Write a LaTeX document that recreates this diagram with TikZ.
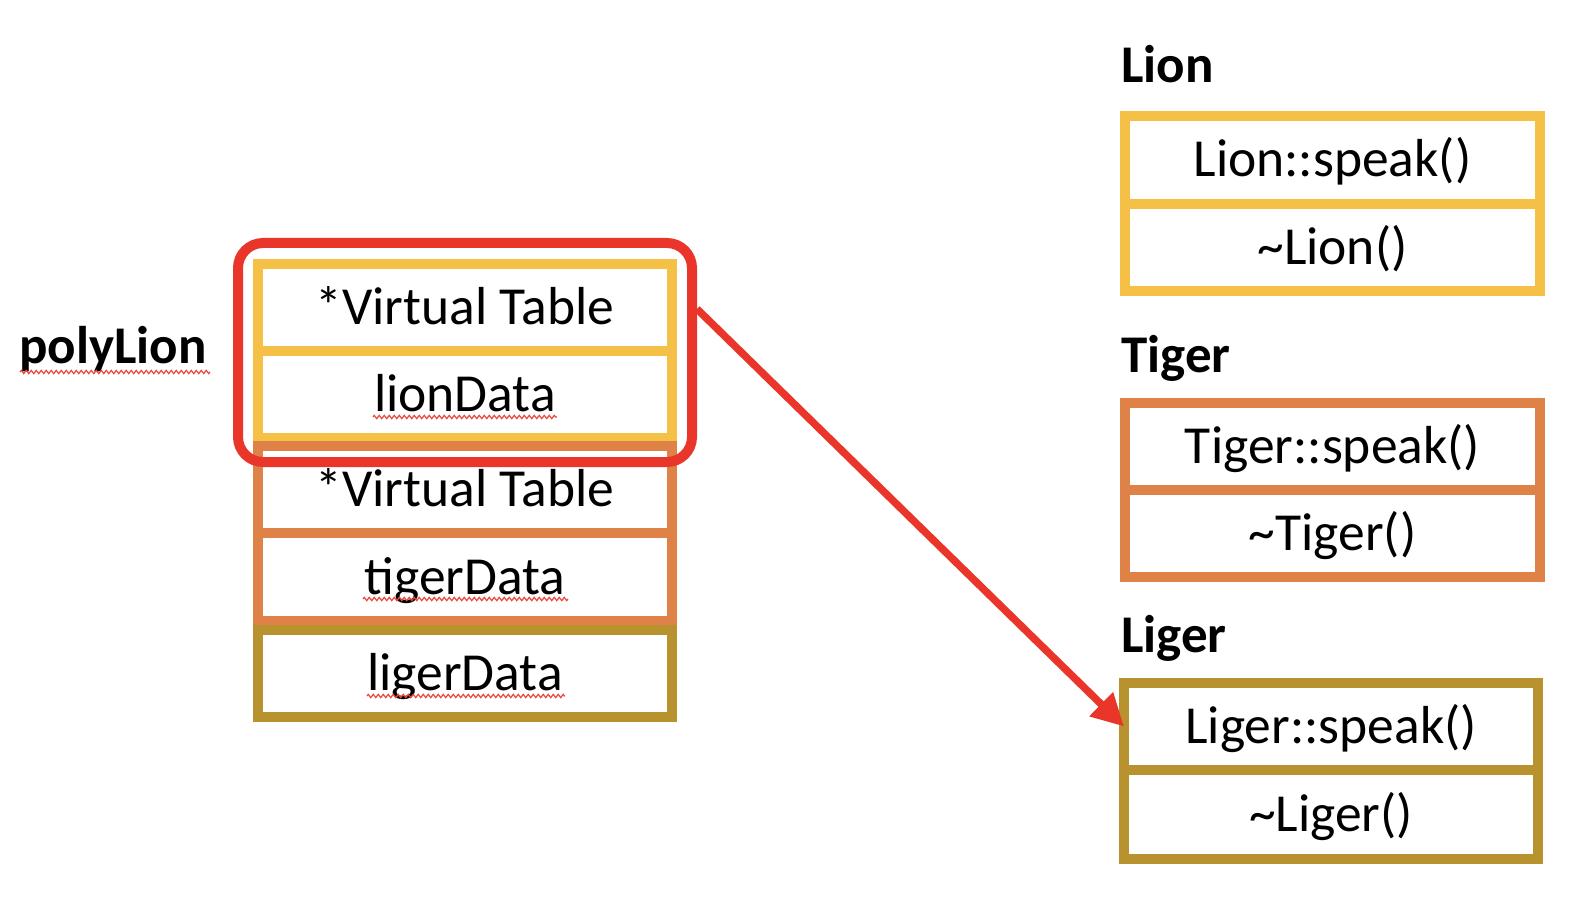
\documentclass[tikz,border=0pt]{standalone}
\usepackage{fontspec}
\setmainfont{Carlito}
\usetikzlibrary{arrows.meta,calc,decorations.pathmorphing}
\definecolor{lionc}{HTML}{F4C045}
\definecolor{tigerc}{HTML}{DF8247}
\definecolor{ligerc}{HTML}{B8922F}
\definecolor{selred}{HTML}{E9352A}
\definecolor{spellred}{HTML}{E8483C}
\begin{document}
\begin{tikzpicture}[x=1pt,y=-1pt,
  row/.style={draw=#1, line width=10pt, fill=white, minimum width=414pt, minimum height=87pt,
    inner sep=0pt, outer sep=0pt, text height=34pt, text depth=0pt,
    font=\fontsize{53.5}{60}\selectfont},
  title/.style={anchor=base west, inner sep=0pt, font=\fontsize{53}{60}\selectfont\bfseries},
  spell/.style={draw=spellred, line width=1.2pt, decorate,
    decoration={zigzag, amplitude=1.6pt, segment length=5pt}},
  sel/.style={draw=selred, line width=10pt, rounded corners=25pt, minimum width=454pt,
    minimum height=219pt, inner sep=0pt},
  ptr/.style={draw=selred, line width=7.5pt, -{Triangle[length=32pt,width=32pt]}}
]
\useasboundingbox (0,0) rectangle (1572,904);

% left object layout
\node[title] (poly) at (19,363) {polyLion};
\node[row=lionc] (vt1) at (465,307.5) {*Virtual Table};
\node[row=lionc] (lion data) at (465,394.5) {lionData};
\node[row=tigerc] (vt2) at (465,489.5) {*Virtual Table};
\node[row=tigerc, minimum height=88pt] (tiger data) at (465,577) {tigerData};
\node[row=ligerc] (liger data) at (465,673.5) {ligerData};

% spell-check underlines
\draw[spell] (20,372) -- (210,372);
\draw[spell] (373,417) -- (557,417);
\draw[spell] (363,599) -- (568,599);
\draw[spell] (367,696) -- (565,696);

% right-hand vtables
\node[title] (lion) at (1121,83) {Lion};
\node[row=lionc, minimum width=415pt, minimum height=88pt] (lspeak) at (1332.5,160) {Lion::speak()};
\node[row=lionc, minimum width=415pt] (ldtor) at (1332.5,247.5) {\textasciitilde Lion()};

\node[title] (tiger) at (1121,372) {Tiger};
\node[row=tigerc, minimum width=415pt] (tspeak) at (1332.5,446.5) {Tiger::speak()};
\node[row=tigerc, minimum width=415pt] (tdtor) at (1332.5,533.5) {\textasciitilde Tiger()};

\node[title] (liger) at (1121,652) {Liger};
\node[row=ligerc] (gspeak) at (1331,726.5) {Liger::speak()};
\node[row=ligerc, minimum height=89pt] (gdtor) at (1331,814.5) {\textasciitilde Liger()};

% selection and pointer
\node[sel] (selbox) at (465,352.5) {};
\draw[ptr] ($(selbox.north east)!0.31!(selbox.south east)$) -- (gspeak.west);
\end{tikzpicture}
\end{document}
